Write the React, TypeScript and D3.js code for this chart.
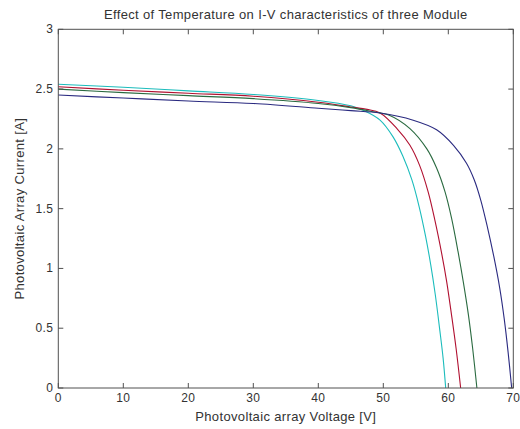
import React from "react";
import * as d3 from "d3";

const title = "Effect of Temperature on I-V characteristics of three Module";
const xLabel = "Photovoltaic array Voltage [V]";
const yLabel = "Photovoltaic Array Current [A]";
const xTicks = [0, 10, 20, 30, 40, 50, 60, 70];
const yTicks = [0, 0.5, 1, 1.5, 2, 2.5, 3];

const cyanV = [0, 10, 20, 30, 40, 45, 47, 49.5, 51.5, 53, 54.4, 55.5, 56.5, 57.3, 58, 58.7, 59.2, 59.6];
const cyanI = [2.54, 2.515, 2.485, 2.455, 2.405, 2.36, 2.32, 2.24, 2.1, 1.94, 1.74, 1.52, 1.27, 1.03, 0.78, 0.48, 0.25, 0];
const redV = [0, 10, 20, 30, 40, 45, 47.5, 49.5, 52.1, 54.1, 55.6, 56.9, 57.95, 59.0, 59.75, 60.5, 61.2, 61.9];
const redI = [2.52, 2.49, 2.465, 2.44, 2.39, 2.35, 2.33, 2.3, 2.17, 2.03, 1.86, 1.64, 1.4, 1.12, 0.89, 0.61, 0.33, 0];
const greenV = [0, 10, 20, 30, 40, 45, 48, 51, 54.1, 56.7, 58.2, 59.5, 60.5, 61.5, 62.3, 63.1, 63.75, 64.4];
const greenI = [2.5, 2.47, 2.445, 2.42, 2.38, 2.345, 2.315, 2.28, 2.17, 2.0, 1.84, 1.64, 1.42, 1.14, 0.89, 0.61, 0.33, 0];
const navyV = [0, 10, 20, 30, 40, 45, 49.5, 54.6, 58.2, 60.8, 62.8, 64.0, 65.0, 66.0, 67.0, 67.9, 68.6, 69.2, 69.75];
const navyI = [2.45, 2.425, 2.4, 2.38, 2.34, 2.32, 2.3, 2.24, 2.16, 2.03, 1.88, 1.74, 1.57, 1.35, 1.1, 0.84, 0.58, 0.3, 0];

const series = [
  { name: "cyan", v: cyanV, i: cyanI, color: "#1cbcbc" },
  { name: "red", v: redV, i: redI, color: "#b01030" },
  { name: "green", v: greenV, i: greenI, color: "#2a6a40" },
  { name: "navy", v: navyV, i: navyI, color: "#2a2a80" },
];

export default function App() {
  const W = 520, H = 429;
  const left = 58.3, right = 513.3, top = 29.3, bottom = 388;
  const x = d3.scaleLinear().domain([0, 70]).range([left, right]);
  const y = d3.scaleLinear().domain([0, 3]).range([bottom, top]);
  const line = d3
    .line<[number, number]>()
    .x((d) => x(d[0]))
    .y((d) => y(d[1]))
    .curve(d3.curveCatmullRom.alpha(0.5));
  const axisColor = "#505050";
  const font = "'Liberation Sans', Arial, sans-serif";
  const tl = 5;
  return (
    <svg
      width={W}
      height={H}
      style={{ position: "fixed", left: 0, top: 0, background: "#fff" }}
      fontFamily={font}
    >
      <rect x={0} y={0} width={W} height={H} fill="#fff" />
      <g fill="none" strokeWidth={1.1}>
        {series.map((s) => (
          <path
            key={s.name}
            d={line(s.v.map((v, k) => [v, s.i[k]] as [number, number])) || ""}
            stroke={s.color}
          />
        ))}
      </g>
      <rect
        x={left}
        y={top}
        width={right - left}
        height={bottom - top}
        fill="none"
        stroke={axisColor}
        strokeWidth={1}
      />
      {xTicks.map((t) => (
        <g key={"x" + t}>
          <line x1={x(t)} x2={x(t)} y1={bottom} y2={bottom - tl} stroke={axisColor} />
          <line x1={x(t)} x2={x(t)} y1={top} y2={top + tl} stroke={axisColor} />
          <text x={x(t)} y={bottom + 14} fontSize={12} letterSpacing={0.4} textAnchor="middle" fill="#333">
            {t}
          </text>
        </g>
      ))}
      {yTicks.map((t) => (
        <g key={"y" + t}>
          <line x1={left} x2={left + tl} y1={y(t)} y2={y(t)} stroke={axisColor} />
          <line x1={right} x2={right - tl} y1={y(t)} y2={y(t)} stroke={axisColor} />
          <text x={left - 5} y={y(t) + 4} fontSize={12} letterSpacing={0.4} textAnchor="end" fill="#333">
            {t}
          </text>
        </g>
      ))}
      <text x={(left + right) / 2} y={19} fontSize={13} letterSpacing={0.35} textAnchor="middle" fill="#333">
        {title}
      </text>
      <text x={(left + right) / 2} y={421} fontSize={13} letterSpacing={0.35} textAnchor="middle" fill="#333">
        {xLabel}
      </text>
      <text
        transform={`translate(24,${(top + bottom) / 2}) rotate(-90)`}
        fontSize={13}
        letterSpacing={0.35}
        textAnchor="middle"
        fill="#333"
      >
        {yLabel}
      </text>
    </svg>
  );
}
